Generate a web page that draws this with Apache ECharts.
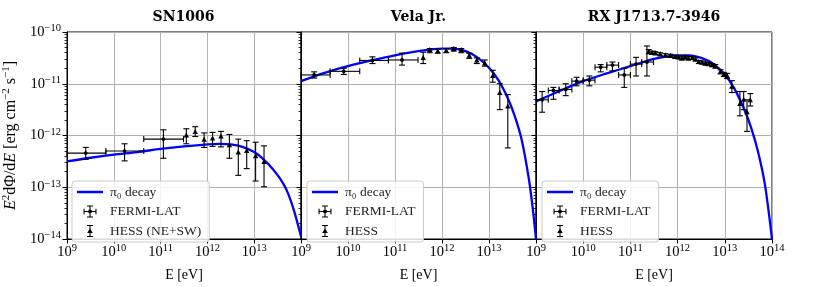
<!DOCTYPE html>
<html><head><meta charset="utf-8">
<script src="https://cdn.jsdelivr.net/npm/echarts@6/dist/echarts.min.js"></script>
<style>html,body{margin:0;padding:0;background:#fff}#c{width:830px;height:287px}</style>
</head><body><div id="c"></div>
<script>
// ---------------- data (log10 units) ----------------
const TITLES = ['SN1006', 'Vela Jr.', 'RX J1713.7-3946'];
const HESS_NAMES = ['HESS (NE+SW)', 'HESS', 'HESS'];
const X_TICKS = [9, 10, 11, 12, 13, 14];
const Y_TICKS = [-14, -13, -12, -11, -10];

// SN1006
const SN_MODEL_LOGE = [9.0, 9.5, 10.0, 10.5, 11.0, 11.5, 12.0, 12.25, 12.5, 12.75, 13.0, 13.2, 13.4, 13.55, 13.7, 13.85, 14.0];
const SN_MODEL_LOGF = [-12.50, -12.43, -12.37, -12.32, -12.26, -12.21, -12.17, -12.16, -12.17, -12.22, -12.32, -12.46, -12.65, -12.83, -13.07, -13.45, -13.95];
const SN_FERMI_LOGE = [9.40, 10.23, 11.06];
const SN_FERMI_LOGE_LO = [9.0, 9.83, 10.64];
const SN_FERMI_LOGE_HI = [9.83, 10.64, 11.49];
const SN_FERMI_LOGF = [-12.34, -12.30, -12.07];
const SN_FERMI_LOGF_LO = [-12.46, -12.49, -12.44];
const SN_FERMI_LOGF_HI = [-12.23, -12.16, -11.89];
const SN_HESS_LOGE = [11.55, 11.74, 11.93, 12.11, 12.29, 12.47, 12.66, 12.84, 13.03, 13.21];
const SN_HESS_LOGF = [-12.00, -11.93, -12.08, -12.06, -12.02, -12.19, -12.33, -12.30, -12.40, -12.51];
const SN_HESS_LOGF_LO = [-12.16, -12.02, -12.23, -12.21, -12.22, -12.44, -12.77, -12.64, -12.88, -12.99];
const SN_HESS_LOGF_HI = [-11.87, -11.83, -11.95, -11.94, -11.92, -11.98, -12.07, -12.10, -12.13, -12.20];

// Vela Jr.
const VJ_MODEL_LOGE = [9.0, 9.5, 10.0, 10.5, 11.0, 11.5, 12.0, 12.25, 12.5, 12.75, 13.0, 13.2, 13.4, 13.55, 13.7, 13.85, 13.93, 14.0];
const VJ_MODEL_LOGF = [-10.95, -10.79, -10.66, -10.55, -10.45, -10.37, -10.32, -10.32, -10.37, -10.49, -10.69, -10.93, -11.28, -11.63, -12.1, -12.85, -13.4, -14.0];
const VJ_FERMI_LOGE = [9.28, 9.91, 10.52, 11.15];
const VJ_FERMI_LOGE_LO = [9.0, 9.62, 10.25, 10.86];
const VJ_FERMI_LOGE_HI = [9.62, 10.25, 10.86, 11.49];
const VJ_FERMI_LOGF = [-10.83, -10.76, -10.55, -10.54];
const VJ_FERMI_LOGF_LO = [-10.89, -10.82, -10.61, -10.64];
const VJ_FERMI_LOGF_HI = [-10.77, -10.70, -10.48, -10.41];
const VJ_HESS_LOGE = [11.60, 11.74, 11.91, 12.09, 12.25, 12.41, 12.58, 12.74, 12.91, 13.08, 13.23, 13.40];
const VJ_HESS_LOGF = [-10.50, -10.35, -10.37, -10.36, -10.33, -10.35, -10.46, -10.55, -10.61, -10.85, -11.18, -11.44];
const VJ_HESS_LOGF_LO = [-10.61, -10.40, -10.41, -10.40, -10.37, -10.40, -10.51, -10.61, -10.66, -10.97, -11.50, -12.24];
const VJ_HESS_LOGF_HI = [-10.39, -10.32, -10.33, -10.32, -10.30, -10.32, -10.41, -10.50, -10.54, -10.74, -11.00, -11.21];

// RX J1713.7-3946
const RX_MODEL_LOGE = [9.0, 9.5, 10.0, 10.5, 11.0, 11.5, 12.0, 12.25, 12.5, 12.75, 13.0, 13.2, 13.4, 13.55, 13.7, 13.85, 14.0];
const RX_MODEL_LOGF = [-11.34, -11.14, -10.95, -10.80, -10.66, -10.52, -10.45, -10.45, -10.50, -10.61, -10.82, -11.09, -11.47, -11.83, -12.3, -12.95, -14.0];
const RX_FERMI_LOGE = [9.13, 9.37, 9.63, 9.86, 10.13, 10.37, 10.62, 10.87, 11.12, 11.35];
const RX_FERMI_LOGE_LO = [9.01, 9.26, 9.49, 9.76, 10.0, 10.25, 10.50, 10.75, 11.0, 11.24];
const RX_FERMI_LOGE_HI = [9.26, 9.49, 9.76, 10.0, 10.25, 10.50, 10.75, 11.0, 11.24, 11.49];
const RX_FERMI_LOGF = [-11.31, -11.13, -11.11, -10.95, -10.93, -10.68, -10.64, -10.83, -10.62, -10.58];
const RX_FERMI_LOGF_LO = [-11.55, -11.30, -11.23, -11.04, -11.04, -10.77, -10.75, -11.07, -10.85, -10.85];
const RX_FERMI_LOGF_HI = [-11.15, -11.07, -11.00, -10.875, -10.85, -10.63, -10.58, -10.70, -10.49, -10.27];
const RX_HESS_LOGE = [11.39, 11.46, 11.53, 11.63, 11.74, 11.85, 11.95, 12.02, 12.09, 12.16, 12.23, 12.31, 12.38, 12.45, 12.52, 12.59, 12.66, 12.73, 12.80, 12.91, 12.98, 13.05, 13.15, 13.32, 13.40, 13.47, 13.54];
const RX_HESS_LOGF = [-10.38, -10.40, -10.41, -10.43, -10.45, -10.46, -10.48, -10.49, -10.51, -10.49, -10.51, -10.50, -10.53, -10.58, -10.59, -10.61, -10.62, -10.64, -10.66, -10.77, -10.82, -10.85, -11.06, -11.39, -11.31, -11.55, -11.32];
const RX_HESS_LOGF_LO = [-10.42, -10.43, -10.44, -10.46, -10.48, -10.49, -10.51, -10.52, -10.54, -10.52, -10.54, -10.53, -10.56, -10.61, -10.62, -10.64, -10.65, -10.67, -10.70, -10.81, -10.86, -10.90, -11.17, -11.62, -11.50, -11.92, -11.43];
const RX_HESS_LOGF_HI = [-10.34, -10.37, -10.38, -10.40, -10.42, -10.43, -10.45, -10.46, -10.48, -10.46, -10.48, -10.47, -10.50, -10.55, -10.56, -10.58, -10.59, -10.61, -10.63, -10.73, -10.78, -10.80, -10.94, -11.15, -11.15, -11.31, -11.19];

// ---------------- build ----------------
const FONT = "'Liberation Serif','DejaVu Serif',serif";
const GRIDS = [{left: 66, width: 235}, {left: 301, width: 235}, {left: 536, width: 236}];
const TOP = 32, HEIGHT = 208;

const zip = (...arrs) => arrs[0].map((_, i) => arrs.map(a => a[i]));
const PANELS = [
  {model: zip(SN_MODEL_LOGE, SN_MODEL_LOGF),
   fermi: zip(SN_FERMI_LOGE, SN_FERMI_LOGE_LO, SN_FERMI_LOGE_HI, SN_FERMI_LOGF, SN_FERMI_LOGF_LO, SN_FERMI_LOGF_HI),
   hess: zip(SN_HESS_LOGE, SN_HESS_LOGF, SN_HESS_LOGF_LO, SN_HESS_LOGF_HI)},
  {model: zip(VJ_MODEL_LOGE, VJ_MODEL_LOGF),
   fermi: zip(VJ_FERMI_LOGE, VJ_FERMI_LOGE_LO, VJ_FERMI_LOGE_HI, VJ_FERMI_LOGF, VJ_FERMI_LOGF_LO, VJ_FERMI_LOGF_HI),
   hess: zip(VJ_HESS_LOGE, VJ_HESS_LOGF, VJ_HESS_LOGF_LO, VJ_HESS_LOGF_HI)},
  {model: zip(RX_MODEL_LOGE, RX_MODEL_LOGF),
   fermi: zip(RX_FERMI_LOGE, RX_FERMI_LOGE_LO, RX_FERMI_LOGE_HI, RX_FERMI_LOGF, RX_FERMI_LOGF_LO, RX_FERMI_LOGF_HI),
   hess: zip(RX_HESS_LOGE, RX_HESS_LOGF, RX_HESS_LOGF_LO, RX_HESS_LOGF_HI)}
];

const MINOR_Y = [];
for (let n = -14; n < -10; n++) for (let k = 2; k <= 9; k++) MINOR_Y.push(n + Math.log10(k));

const ST = {stroke: '#000', lineWidth: 1.1};
const CAP = 3;
function renderFermi(params, api) {
  const c = api.coord([api.value(0), api.value(3)]);
  const a = api.coord([api.value(1), api.value(3)]);
  const b = api.coord([api.value(2), api.value(3)]);
  const lo = api.coord([api.value(0), api.value(4)]);
  const hi = api.coord([api.value(0), api.value(5)]);
  return {type: 'group', children: [
    {type: 'line', shape: {x1: a[0], y1: c[1], x2: b[0], y2: c[1]}, style: ST},
    {type: 'line', shape: {x1: a[0], y1: c[1] - CAP, x2: a[0], y2: c[1] + CAP}, style: ST},
    {type: 'line', shape: {x1: b[0], y1: c[1] - CAP, x2: b[0], y2: c[1] + CAP}, style: ST},
    {type: 'line', shape: {x1: c[0], y1: lo[1], x2: c[0], y2: hi[1]}, style: ST},
    {type: 'line', shape: {x1: c[0] - CAP, y1: lo[1], x2: c[0] + CAP, y2: lo[1]}, style: ST},
    {type: 'line', shape: {x1: c[0] - CAP, y1: hi[1], x2: c[0] + CAP, y2: hi[1]}, style: ST},
    {type: 'circle', shape: {cx: c[0], cy: c[1], r: 1.9}, style: {fill: '#000'}}
  ]};
}
function renderHess(params, api) {
  const c = api.coord([api.value(0), api.value(1)]);
  const lo = api.coord([api.value(0), api.value(2)]);
  const hi = api.coord([api.value(0), api.value(3)]);
  return {type: 'group', children: [
    {type: 'line', shape: {x1: c[0], y1: lo[1], x2: c[0], y2: hi[1]}, style: ST},
    {type: 'line', shape: {x1: c[0] - CAP, y1: lo[1], x2: c[0] + CAP, y2: lo[1]}, style: ST},
    {type: 'line', shape: {x1: c[0] - CAP, y1: hi[1], x2: c[0] + CAP, y2: hi[1]}, style: ST},
    {type: 'polygon', shape: {points: [[c[0], c[1] - 3], [c[0] - 2.7, c[1] + 2], [c[0] + 2.7, c[1] + 2]]}, style: {fill: '#000'}}
  ]};
}

const supFmt = v => '{b|10}{s|' + (v < 0 ? '\u2212' + (-v) : v) + '}';
const RICH = {
  b: {fontFamily: FONT, fontSize: 14.5, color: '#000'},
  s: {fontFamily: FONT, fontSize: 10.5, color: '#000', padding: [0, 0, 7, 0]}
};

const BBOX = 'M0,0h0.02v0.02h-0.02z M25.98,11.98h0.02v0.02h-0.02z ';
const ICON_LINE = 'path://' + BBOX + 'M0,4.8h26v2.4h-26z';
const ICON_FERMI = 'path://' + BBOX +
  'M6.5,5.45h13v1.1h-13z M6.5,3.2h1.1v5.6h-1.1z M18.4,3.2h1.1v5.6h-1.1z ' +
  'M12.45,0h1.1v12h-1.1z M10,0h6v1.1h-6z M10,10.9h6v1.1h-6z ' +
  'M15,6a2,2 0 1,1 -4,0a2,2 0 1,1 4,0z';
const ICON_HESS = 'path://' + BBOX +
  'M12.45,0h1.1v12h-1.1z M10,0h6v1.1h-6z M10,10.9h6v1.1h-6z M13,3.2l2.8,4.8h-5.6z';

const option = {
  animation: false,
  backgroundColor: '#fff',
  title: [], grid: [], xAxis: [], yAxis: [], series: [], legend: []
};

PANELS.forEach((p, i) => {
  const g = GRIDS[i];
  option.grid.push({left: g.left, top: TOP, width: g.width, height: HEIGHT, show: true,
    borderColor: '#000', borderWidth: 1, backgroundColor: 'transparent', containLabel: false});
  option.title.push({text: TITLES[i], left: g.left + g.width / 2, top: 10, textAlign: 'center', padding: 0,
    textStyle: {fontFamily: "'DejaVu Serif',serif", fontWeight: 'bold', fontSize: 14, color: '#000'}});
  option.xAxis.push({
    type: 'value', gridIndex: i, min: X_TICKS[0], max: X_TICKS[X_TICKS.length - 1], interval: 1,
    name: 'E [eV]', nameLocation: 'middle', nameGap: 29,
    nameTextStyle: {fontFamily: FONT, fontSize: 14, color: '#000'},
    axisLine: {lineStyle: {color: '#000', width: 1}},
    axisTick: {length: 4.5, lineStyle: {color: '#000', width: 1}},
    axisLabel: {margin: 4, formatter: supFmt, rich: RICH, showMaxLabel: i === 2, showMinLabel: true},
    splitLine: {show: true, lineStyle: {color: '#b0b0b0', width: 1}}
  });
  option.yAxis.push({
    type: 'value', gridIndex: i, min: Y_TICKS[0], max: Y_TICKS[Y_TICKS.length - 1], interval: 1, position: 'left',
    name: i === 0 ? '{i|E}{s|2}d\u03A6/d{i|E} [erg cm{s|\u22122} s{s|\u22121}]' : '',
    nameLocation: 'middle', nameGap: 47, nameRotate: 90,
    nameTextStyle: {fontFamily: FONT, fontSize: 16, color: '#000',
      rich: {i: {fontFamily: FONT, fontSize: 16, fontStyle: 'italic', color: '#000'},
             s: {fontFamily: FONT, fontSize: 11, color: '#000', padding: [0, 0, 8, 0]}}},
    axisLine: {show: true, lineStyle: {color: '#000', width: 1}},
    axisTick: {length: 4.5, lineStyle: {color: '#000', width: 1}},
    axisLabel: {show: i === 0, margin: 6, formatter: supFmt, rich: RICH},
    splitLine: {show: true, lineStyle: {color: '#b0b0b0', width: 1}}
  });
  option.yAxis.push({
    type: 'value', gridIndex: i, min: Y_TICKS[0], max: Y_TICKS[Y_TICKS.length - 1], position: 'left',
    axisLine: {show: false}, axisLabel: {show: false}, splitLine: {show: false},
    axisTick: {show: true, length: 2.5, customValues: MINOR_Y, lineStyle: {color: '#000', width: 0.8}}
  });
  option.series.push({
    name: '\u03C0\u2080 decay', type: 'line', xAxisIndex: i, yAxisIndex: 2 * i, data: p.model,
    smooth: 0.3, showSymbol: false, symbol: 'none', clip: true, z: 3,
    lineStyle: {color: '#0000ff', width: 2.3}, itemStyle: {color: '#0000ff'}
  });
  option.series.push({
    name: 'FERMI-LAT', type: 'custom', xAxisIndex: i, yAxisIndex: 2 * i, data: p.fermi,
    renderItem: renderFermi, encode: {x: [0, 1, 2], y: [3, 4, 5]}, itemStyle: {color: '#000'}, z: 4
  });
  option.series.push({
    name: HESS_NAMES[i], type: 'custom', xAxisIndex: i, yAxisIndex: 2 * i, data: p.hess,
    renderItem: renderHess, encode: {x: [0], y: [1, 2, 3]}, itemStyle: {color: '#000'}, z: 4
  });
  option.legend.push({
    orient: 'vertical', left: g.left + 6, top: 181,
    data: [{name: '\u03C0\u2080 decay', icon: ICON_LINE}, {name: 'FERMI-LAT', icon: ICON_FERMI}, {name: HESS_NAMES[i], icon: ICON_HESS}],
    itemWidth: 26, itemHeight: 12, itemGap: 5.5, selectedMode: false,
    textStyle: {fontFamily: FONT, fontSize: 13.5, color: '#222', padding: [0, 0, 0, 2]},
    backgroundColor: 'rgba(255,255,255,0.85)', borderColor: '#cccccc', borderWidth: 1, borderRadius: 3,
    padding: [4, 8, 4, 5], z: 10
  });
});

const chart = echarts.init(document.getElementById('c'), null, {renderer: 'canvas'});
chart.setOption(option);
</script></body></html>
